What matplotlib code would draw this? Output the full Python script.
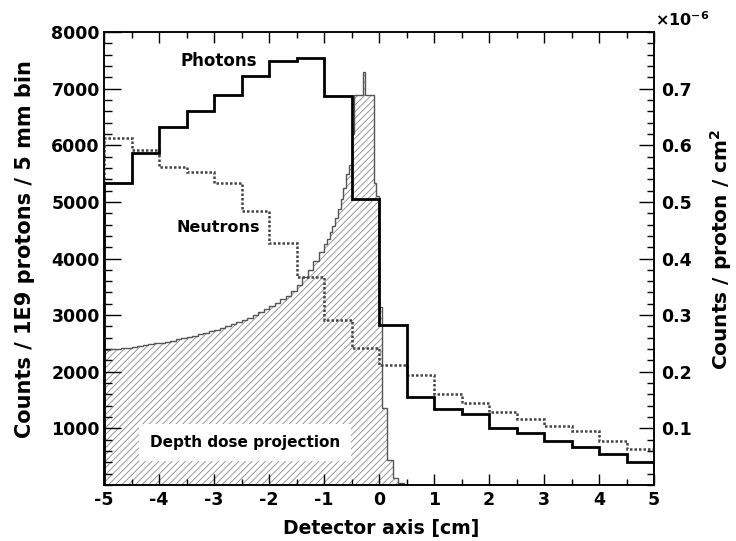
import numpy as np
import matplotlib
matplotlib.use("Agg")
import matplotlib.pyplot as plt
from matplotlib.ticker import MultipleLocator

plt.rcParams['font.family'] = ['DejaVu Sans']
plt.rcParams['font.weight'] = 'bold'
plt.rcParams['mathtext.default'] = 'bf'
plt.rcParams['hatch.color'] = '#8a8a8a'
plt.rcParams['hatch.linewidth'] = 0.6

# ---------------- data ----------------
bin_edges_coarse = np.linspace(-5, 5, 21)          # 5 mm bins
photons = [5335, 5870, 6330, 6613, 6890, 7226, 7480, 7540, 6873, 5053,
           2827, 1550, 1337, 1254, 1001, 924, 783, 666, 542, 412]
neutrons = [6125, 5920, 5624, 5535, 5330, 4846, 4270, 3680, 2915, 2414,
            2125, 1943, 1608, 1454, 1284, 1160, 1042, 959, 777, 631]

dose_edges = np.concatenate([np.linspace(-5, -1, 41), np.linspace(-0.95, 0.5, 30)])
depth_dose = [
    # 1 mm bins, -5 .. -1 cm
    2390, 2395, 2405, 2415, 2425, 2440, 2455, 2470, 2485, 2500,
    2515, 2530, 2550, 2570, 2590, 2615, 2640, 2665, 2690, 2715,
    2745, 2775, 2805, 2840, 2875, 2915, 2955, 3000, 3050, 3100,
    3155, 3215, 3280, 3330, 3420, 3530, 3670, 3800, 3950, 4120,
    # 0.5 mm bins, -1 .. 0.5 cm
    4250, 4350, 4460, 4580, 4720, 4880, 5050, 5250, 5500, 5650,
    6200, 6880, 6880, 6880, 7290, 6890, 6890, 6890, 5330, 5100,
    3150, 1360, 1360, 440, 440, 120, 120, 40, 40, 0]

left_ticks = [1000, 2000, 3000, 4000, 5000, 6000, 7000, 8000]
left_labels = ['1000', '2000', '3000', '4000', '5000', '6000', '7000', '8000']
right_ticks = [0.1, 0.2, 0.3, 0.4, 0.5, 0.6, 0.7]
right_labels = ['0.1', '0.2', '0.3', '0.4', '0.5', '0.6', '0.7']
x_ticks = [-5, -4, -3, -2, -1, 0, 1, 2, 3, 4, 5]

# ---------------- figure ----------------
fig = plt.figure(figsize=(7.36, 5.41), dpi=100)
ax = fig.add_axes([104 / 736, 1 - 485 / 541, 550 / 736, 453 / 541])

ax.stairs(depth_dose, dose_edges, fill=True, facecolor='white',
          edgecolor='#8a8a8a', hatch='/////', linewidth=0, zorder=1)
ax.stairs(depth_dose, dose_edges, fill=False, edgecolor='#555555',
          linewidth=1.0, zorder=2)
ax.stairs(neutrons, bin_edges_coarse, color='#444444', linewidth=1.8,
          linestyle=(0, (1, 0.8)), zorder=3)
ax.stairs(photons, bin_edges_coarse, color='black', linewidth=2.0, zorder=4)

ax.set_xlim(-5, 5)
ax.set_ylim(0, 8000)

fs = 12.5
ax.set_xticks(x_ticks)
ax.set_xticklabels([str(t) for t in x_ticks], fontsize=fs, fontweight='bold')
ax.xaxis.set_minor_locator(MultipleLocator(0.5))
ax.set_yticks(left_ticks)
ax.set_yticklabels(left_labels, fontsize=fs, fontweight='bold')
ax.yaxis.set_minor_locator(MultipleLocator(200))

ax.tick_params(axis='x', which='major', direction='in', length=8, width=1.0,
               top=True, bottom=True, pad=4)
ax.tick_params(axis='x', which='minor', direction='in', length=4, width=1.0,
               top=True, bottom=True)
ax.tick_params(axis='y', which='major', direction='in', length=12, width=1.0,
               left=True, right=False, pad=3)
ax.tick_params(axis='y', which='minor', direction='in', length=5.5, width=1.0,
               left=True, right=False)
for s in ax.spines.values():
    s.set_linewidth(1.1)

ax.set_xlabel('Detector axis [cm]', fontsize=13.6, fontweight='bold')
ax.xaxis.set_label_coords(0.504, -0.076)
ax.set_ylabel('Counts / 1E9 protons / 5 mm bin', fontsize=15, fontweight='bold')
ax.yaxis.set_label_coords(-0.125, 0.52)

ax2 = ax.twinx()
ax2.set_position(ax.get_position())
ax2.set_ylim(0, 0.8)
ax2.set_yticks(right_ticks)
ax2.set_yticklabels(right_labels, fontsize=fs, fontweight='bold')
ax2.yaxis.set_minor_locator(MultipleLocator(0.02))
ax2.tick_params(axis='y', which='major', direction='in', length=11, width=1.0,
                right=True, left=False, pad=5)
ax2.tick_params(axis='y', which='minor', direction='in', length=5, width=1.0,
                right=True, left=False)
ax2.set_ylabel('Counts / proton / cm$^{2}$', fontsize=14.5, fontweight='bold')
ax2.yaxis.set_label_coords(1.098, 0.52)
for s in ax2.spines.values():
    s.set_linewidth(1.1)

fig.text(655 / 736, 1 - 20 / 541, '\u00d710$^{-6}$', fontsize=11.5,
         fontweight='bold', ha='left', va='center')

ax.text(-2.91, 7491, 'Photons', fontsize=12, fontweight='bold',
        ha='center', va='center', zorder=6)
ax.text(-2.93, 4540, 'Neutrons', fontsize=11.5, fontweight='bold',
        ha='center', va='center', zorder=6)
ax.text(-2.44, 750, 'Depth dose projection', fontsize=11, fontweight='bold',
        ha='center', va='center', zorder=6,
        bbox=dict(facecolor='white', edgecolor='none', pad=8))

fig.savefig('out.png', dpi=100)
